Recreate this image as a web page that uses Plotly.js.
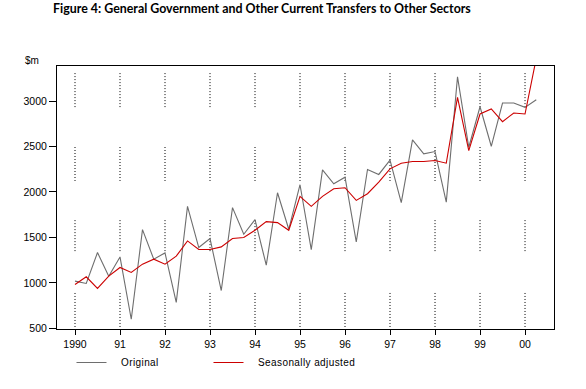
<!DOCTYPE html>
<html>
<head>
<meta charset="utf-8">
<script src="https://cdn.plot.ly/plotly-3.0.1.min.js"></script>
<style>
  html, body { margin: 0; padding: 0; background: #fff; }
  #chart { width: 586px; height: 389px; }
  .legendtext { letter-spacing: 0.4px; }
</style>
</head>
<body>
<div id="chart"></div>
<script>
// Quarterly series, 1990 Q1 to 2000 Q2 ($m)
const startYear = 1990;
const original = [1019, 993, 1333, 1073, 1285, 599, 1585, 1260, 1329, 785, 1841, 1388,
  1487, 915, 1827, 1534, 1695, 1194, 1991, 1589, 2079, 1366, 2243, 2090,
  2162, 1450, 2247, 2192, 2350, 1882, 2572, 2419, 2444, 1888, 3266, 2491,
  2937, 2502, 2978, 2978, 2930, 3014];
const seasonallyAdjusted = [982, 1066, 939, 1073, 1169, 1114, 1205, 1260, 1205, 1293, 1461, 1366,
  1366, 1395, 1487, 1498, 1578, 1673, 1662, 1578, 1951, 1841, 1951, 2035,
  2046, 1907, 1980, 2108, 2254, 2316, 2334, 2334, 2345, 2316, 3040, 2455,
  2857, 2912, 2773, 2868, 2857, 3470];
const tickYears = [1990, 1991, 1992, 1993, 1994, 1995, 1996, 1997, 1998, 1999, 2000];
const tickLabels = ['1990', '91', '92', '93', '94', '95', '96', '97', '98', '99', '00'];
const yTicks = [500, 1000, 1500, 2000, 2500, 3000];
const seriesNames = ['Original', 'Seasonally adjusted'];

const xq = original.map((_, i) => startYear + i / 4);

// dotted vertical grid segments (paper fractions), drawn at each year tick
const gridSegs = [[0.973, 0.840], [0.692, 0.563], [0.414, 0.289], [0.137, 0.005]];
const shapes = [];
tickYears.forEach(yr => {
  gridSegs.forEach(s => {
    shapes.push({type: 'line', xref: 'x', yref: 'paper', x0: yr, x1: yr, y0: s[0], y1: s[1],
      layer: 'below', line: {color: '#000', width: 1, dash: '1px,2px'}});
  });
});

const font = {family: 'Liberation Sans, Arial, sans-serif', size: 10.5, color: '#000'};
const pad = '\u00a0\u00a0\u00a0';

const traces = [
  {x: xq, y: original, name: pad + seriesNames[0], type: 'scatter', mode: 'lines', legendwidth: 92,
   line: {color: '#6e6e6e', width: 1.1}},
  {x: xq, y: seasonallyAdjusted, name: pad + seriesNames[1], type: 'scatter', mode: 'lines', legendwidth: 130,
   line: {color: '#cc0000', width: 1.1}}
];

const layout = {
  width: 586, height: 389,
  margin: {l: 57, r: 32, t: 66, b: 60},
  paper_bgcolor: '#fff', plot_bgcolor: '#fff',
  font: font,
  title: {text: '<b>Figure 4: General Government and Other Current Transfers to Other Sectors</b>',
    font: {family: 'Lato, Calibri, sans-serif', size: 12.4, color: '#000'},
    xref: 'container', yref: 'container', x: 0.447, xanchor: 'center', y: 0.977, yanchor: 'middle'},
  xaxis: {range: [1989.6, 2000.644], tickmode: 'array', tickvals: tickYears, ticktext: tickLabels,
    showgrid: false, zeroline: false, showline: true, linecolor: '#000', linewidth: 1, mirror: true,
    ticks: 'outside', ticklen: 5, tickcolor: '#000', tickfont: font},
  yaxis: {range: [492, 3385], tickmode: 'array', tickvals: yTicks,
    showgrid: false, zeroline: false, showline: true, linecolor: '#000', linewidth: 1, mirror: true,
    ticks: 'outside', ticklen: 7, tickcolor: '#000', tickfont: font},
  showlegend: true,
  legend: {orientation: 'h', xref: 'container', yref: 'container', x: 0.122, xanchor: 'left',
    y: 0.068, yanchor: 'middle',
    font: {family: 'Liberation Sans, Arial, sans-serif', size: 10, color: '#000'},
    bgcolor: 'rgba(0,0,0,0)', borderwidth: 0},
  annotations: [{text: '$m', xref: 'paper', yref: 'paper', x: -0.05, y: 1.02, xanchor: 'center',
    yanchor: 'middle', showarrow: false, font: {family: 'Liberation Sans, Arial, sans-serif', size: 10, color: '#000'}}],
  shapes: shapes
};

Plotly.newPlot('chart', traces, layout, {displayModeBar: false, staticPlot: true});
</script>
</body>
</html>
